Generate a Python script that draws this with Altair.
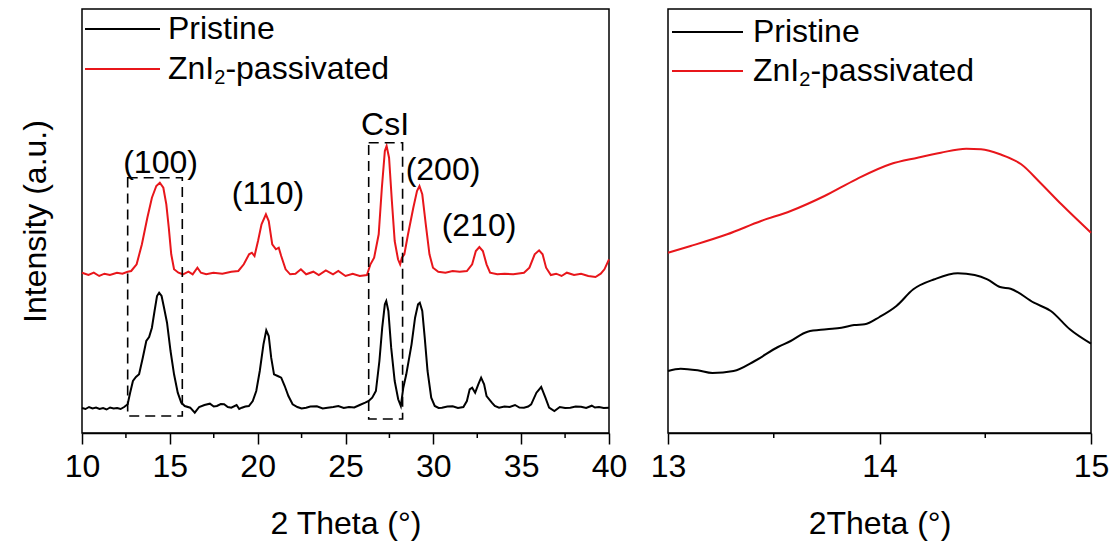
import altair as alt
import pandas as pd

FONT = "Liberation Sans"
BLACK = "#000000"
RED = "#e8161b"
FS = 32

# ---- full scan, 10-40 degrees (intensity in arbitrary units) ----
pristine_2theta = [10.0, 10.2, 10.4, 10.6, 10.8, 11.0, 11.2, 11.4, 11.6, 11.8, 12.0, 12.2, 12.4,
                   12.6, 12.74, 12.9, 13.07, 13.25, 13.46, 13.66, 13.82, 13.98, 14.13, 14.27, 14.39,
                   14.53, 14.67, 14.84, 15.04, 15.24, 15.45, 15.65, 15.85, 16.16, 16.42, 16.67, 16.97,
                   17.28, 17.5, 17.68, 17.9, 18.09, 18.3, 18.5, 18.8, 18.95, 19.1, 19.3, 19.5, 19.72,
                   19.92, 20.12, 20.33, 20.49, 20.63, 20.77, 20.93, 21.14, 21.34, 21.54, 21.75, 21.99,
                   22.26, 22.5, 22.76, 23.0, 23.37, 23.7, 23.98, 24.3, 24.59, 24.9, 25.2, 25.5, 25.81,
                   26.12, 26.32, 26.52, 26.73, 26.93, 27.09, 27.24, 27.32, 27.44, 27.6, 27.8, 28.0,
                   28.15, 28.29, 28.46, 28.76, 28.96, 29.13, 29.23, 29.37, 29.51, 29.67, 29.88, 30.08,
                   30.3, 30.49, 30.8, 31.1, 31.4, 31.71, 31.91, 32.07, 32.21, 32.38, 32.56, 32.72,
                   32.89, 33.03, 33.33, 33.5, 33.74, 34.05, 34.35, 34.65, 34.9, 35.16, 35.4, 35.57,
                   35.87, 36.14, 36.38, 36.59, 36.89, 37.2, 37.5, 37.8, 38.1, 38.41, 38.7, 39.02,
                   39.2, 39.43, 39.7, 40.0]
pristine_int = [25, 24, 26, 24.5, 25.5, 24, 25, 23.5, 25.5, 24.5, 25, 24, 26,
                28.7, 40.3, 52, 56, 58.7, 75.3, 92, 96, 105.3, 122, 137, 140.3,
                137, 125.3, 110.3, 82, 58.7, 40.3, 30.3, 27, 25.3, 20.3, 26, 28,
                29.3, 26.5, 27, 29, 28.7, 26, 25.3, 28, 24, 25.3, 26.5, 27, 32,
                42, 62, 88.7, 102.7, 97, 75.3, 58.7, 57, 55.3, 47, 37, 28.7,
                26, 24.5, 25.3, 26.5, 26.7, 24.5, 25.3, 26, 27, 25, 26, 25.5, 28,
                30.3, 32, 35.3, 42, 72, 105.3, 128.7, 132, 122, 85.3, 52, 33.7,
                27, 45.3, 58.7, 88.7, 115.3, 128.7, 130.3, 122, 95.3, 62, 35.3, 27,
                25, 25.3, 26.5, 26.7, 25, 26, 32, 43.7, 45.3, 40.3, 48.7, 55.3,
                48.7, 37, 30.3, 27, 25.3, 26.5, 26, 28, 25.5, 25.3, 26.5, 28.7,
                40.3, 46, 35.3, 25.3, 22, 26, 25, 25.3, 26.5, 26.3, 25, 27.3,
                25.5, 26, 25, 25.3]

znpass_2theta = [10.0, 10.37, 10.67, 10.98, 11.28, 11.59, 11.99, 12.3, 12.6, 12.8, 13.11, 13.41,
                 13.72, 13.98, 14.23, 14.43, 14.63, 14.8, 14.94, 15.08, 15.24, 15.49, 15.75, 16.06,
                 16.3, 16.57, 16.77, 17.07, 17.48, 17.99, 18.5, 18.9, 19.21, 19.51, 19.67, 19.82,
                 20.02, 20.22, 20.47, 20.63, 20.83, 21.04, 21.2, 21.34, 21.59, 21.85, 22.15, 22.46,
                 22.76, 23.17, 23.48, 23.88, 24.29, 24.59, 25.0, 25.41, 25.81, 26.22, 26.42, 26.63,
                 26.89, 27.07, 27.24, 27.34, 27.48, 27.64, 27.8, 27.99, 28.11, 28.21, 28.35, 28.56,
                 28.86, 29.07, 29.21, 29.37, 29.57, 29.78, 29.98, 30.28, 30.69, 31.1, 31.5, 31.91,
                 32.21, 32.42, 32.62, 32.82, 33.03, 33.23, 33.64, 34.05, 34.55, 35.16, 35.47, 35.77,
                 36.02, 36.22, 36.42, 36.69, 36.99, 37.3, 37.6, 38.01, 38.41, 38.82, 39.23, 39.53,
                 39.74, 40.0]
znpass_int = [160.3, 158, 160.3, 157, 159.3, 158, 160.3, 159.3, 161.3, 162, 168.7, 188.7,
              215.3, 235.3, 247, 250.3, 245.3, 228.7, 205.3, 178.7, 163.7, 160.3, 158.7, 161.3,
              158.7, 165.3, 160.3, 158.7, 160.3, 159.3, 161.3, 162, 168.7, 178.7, 180.3, 177,
              192, 208.7, 218.7, 212, 188.7, 183.7, 185.3, 177, 163.7, 158.7, 159.3, 163.7,
              158.7, 161.3, 158, 162.7, 158.7, 162, 157, 159.3, 157, 158, 168.7, 175.3,
              198.7, 245.3, 282, 287, 275.3, 232, 192, 173.7, 168.7, 175.3, 178.7, 198.7,
              225.3, 242, 247, 238.7, 208.7, 178.7, 165.3, 161.3, 160.3, 162, 161.3, 162,
              168.7, 182, 186, 182, 168.7, 160.3, 158.7, 159.3, 158.7, 160.3, 165.3, 178.7,
              182.7, 178.7, 165.3, 158, 159.3, 157, 160.3, 158, 159.3, 157, 156, 159.3,
              163.7, 173.7]

# ---- detail of the (100) reflection, 13-15 degrees ----
zoom_pristine_2theta = [13.0, 13.06, 13.14, 13.21, 13.31, 13.41, 13.52, 13.58, 13.66, 13.75, 13.82,
                        13.88, 13.93, 14.0, 14.08, 14.16, 14.26, 14.37, 14.45, 14.51, 14.57, 14.62,
                        14.73, 14.81, 14.9, 15.0]
zoom_pristine_int = [62, 64.3, 62.7, 60, 62, 72, 86, 92, 101.3, 103.7, 105.3,
                     108, 108.7, 116, 127, 143.7, 153.7, 159.7, 158, 153.7, 146, 144.3,
                     130.3, 122, 103.7, 89.3]
zoom_znpass_2theta = [13.0, 13.107, 13.28, 13.44, 13.58, 13.74, 13.89, 14.05, 14.18, 14.29, 14.41,
                      14.48, 14.57, 14.67, 14.76, 14.86, 15.0]
zoom_znpass_int = [180.3, 187, 198.7, 212, 222, 237, 253.7, 268.7, 275.3, 280.3, 284.3,
                   283.7, 278.7, 268.7, 250.3, 228.7, 200.3]

# peak labels
peak_labels = ["(100)", "(110)", "CsI", "(200)", "(210)"]
peak_label_2theta = [14.47, 20.59, 27.25, 30.55, 32.6]
peak_label_int = [270, 239, 308, 263, 207]

# dashed regions of interest
box_x0 = [12.6, 26.32]
box_x1 = [15.71, 28.25]
box_y0 = [17, 14]
box_y1 = [255.3, 290.3]

left_major = [10, 15, 20, 25, 30, 35, 40]
left_minor = [12.5, 17.5, 22.5, 27.5, 32.5, 37.5]
right_major = [13, 14, 15]
right_minor = [13.5, 14.5]

SERIES = ["Pristine", "ZnI2-passivated"]
Y_DOMAIN = [0, 424]
PLOT_H = 424


def series_frame(x_a, y_a, x_b, y_b):
    a = pd.DataFrame({"two_theta": x_a, "intensity": y_a, "series": SERIES[0]})
    b = pd.DataFrame({"two_theta": x_b, "intensity": y_b, "series": SERIES[1]})
    return pd.concat([a, b], ignore_index=True)


def x_enc(xdom, major, title):
    return alt.X("two_theta:Q", scale=alt.Scale(domain=xdom, nice=False, zero=False),
                 axis=alt.Axis(title=title, values=major, tickCount=40, tickMinStep=0.1,
                               format="d", labelFlush=False, labelOverlap=False, tickSize=11,
                               labelPadding=7, titlePadding=26, grid=False))


def traces(df, xdom, major, title, ytitle, interp):
    y_axis = (alt.Axis(title=ytitle, labels=False, ticks=False, domain=False, grid=False,
                       titlePadding=30)
              if ytitle else None)
    return alt.Chart(df).mark_line(strokeWidth=2, interpolate=interp).encode(
        x=x_enc(xdom, major, title),
        y=alt.Y("intensity:Q", scale=alt.Scale(domain=Y_DOMAIN, nice=False), axis=y_axis),
        color=alt.Color("series:N", scale=alt.Scale(domain=SERIES, range=[BLACK, RED]),
                        legend=None),
        detail="series:N",
    )


def minor_ticks(values, xdom, major, title):
    return alt.Chart(pd.DataFrame({"two_theta": values})).mark_rule(
        color=BLACK, strokeWidth=1.5
    ).encode(x=x_enc(xdom, major, title), y=alt.value(PLOT_H), y2=alt.value(PLOT_H + 5))


def legend_layer(x_line0, x_line1, x_text, y_first, y_second):
    line_a = alt.Chart().mark_rule(color=BLACK, strokeWidth=2).encode(
        x=alt.value(x_line0), x2=alt.value(x_line1), y=alt.value(y_first))
    line_b = alt.Chart().mark_rule(color=RED, strokeWidth=2).encode(
        x=alt.value(x_line0), x2=alt.value(x_line1), y=alt.value(y_second))
    txt = dict(font=FONT, color=BLACK, align="left", baseline="middle")
    t1 = alt.Chart().mark_text(fontSize=FS, **txt).encode(
        x=alt.value(x_text), y=alt.value(y_first), text=alt.value("Pristine"))
    t2 = alt.Chart().mark_text(fontSize=FS, **txt).encode(
        x=alt.value(x_text), y=alt.value(y_second), text=alt.value("ZnI"))
    sub_x = x_text + 46.2
    t3 = alt.Chart().mark_text(fontSize=20, **txt).encode(
        x=alt.value(sub_x), y=alt.value(y_second + 9), text=alt.value("2"))
    t4 = alt.Chart().mark_text(fontSize=FS, **txt).encode(
        x=alt.value(sub_x + 11.2), y=alt.value(y_second), text=alt.value("-passivated"))
    return [line_a, line_b, t1, t2, t3, t4]


# left panel: full pattern
full_df = series_frame(pristine_2theta, pristine_int, znpass_2theta, znpass_int)
boxes = alt.Chart(pd.DataFrame({"x0": box_x0, "x1": box_x1, "y0": box_y0, "y1": box_y1})).mark_rect(
    fillOpacity=0, stroke=BLACK, strokeWidth=1.6, strokeDash=[10, 6]
).encode(x="x0:Q", x2="x1:Q", y="y0:Q", y2="y1:Q")
labels = alt.Chart(pd.DataFrame({"two_theta": peak_label_2theta, "intensity": peak_label_int,
                                 "label": peak_labels})).mark_text(
    font=FONT, fontSize=FS, color=BLACK, align="center", baseline="middle"
).encode(x="two_theta:Q", y="intensity:Q", text="label:N")

left = alt.layer(
    traces(full_df, [10, 40], left_major, "2 Theta (°)", "Intensity (a.u.)", "linear"),
    boxes, labels, minor_ticks(left_minor, [10, 40], left_major, "2 Theta (°)"),
    *legend_layer(3, 78, 86, 20, 60),
).properties(width=527, height=PLOT_H)

# right panel: (100) detail
zoom_df = series_frame(zoom_pristine_2theta, zoom_pristine_int, zoom_znpass_2theta, zoom_znpass_int)
right = alt.layer(
    traces(zoom_df, [13, 15], right_major, "2Theta (°)", None, "monotone"),
    minor_ticks(right_minor, [13, 15], right_major, "2Theta (°)"),
    *legend_layer(4, 75, 85, 23, 62),
).properties(width=423, height=PLOT_H)

chart = alt.hconcat(left, right, spacing=59, bounds="flush").properties(
    padding={"left": 18, "top": 8, "right": 5, "bottom": 5}
).configure_view(
    stroke=BLACK, strokeWidth=1.5
).configure_axis(
    labelFont=FONT, titleFont=FONT, labelFontSize=FS, titleFontSize=FS,
    titleFontWeight="normal", labelColor=BLACK, titleColor=BLACK,
    domainColor=BLACK, tickColor=BLACK, domainWidth=1.5, tickWidth=1.5,
)

chart.save("out.html", embed_options={"renderer": "svg", "actions": False})
